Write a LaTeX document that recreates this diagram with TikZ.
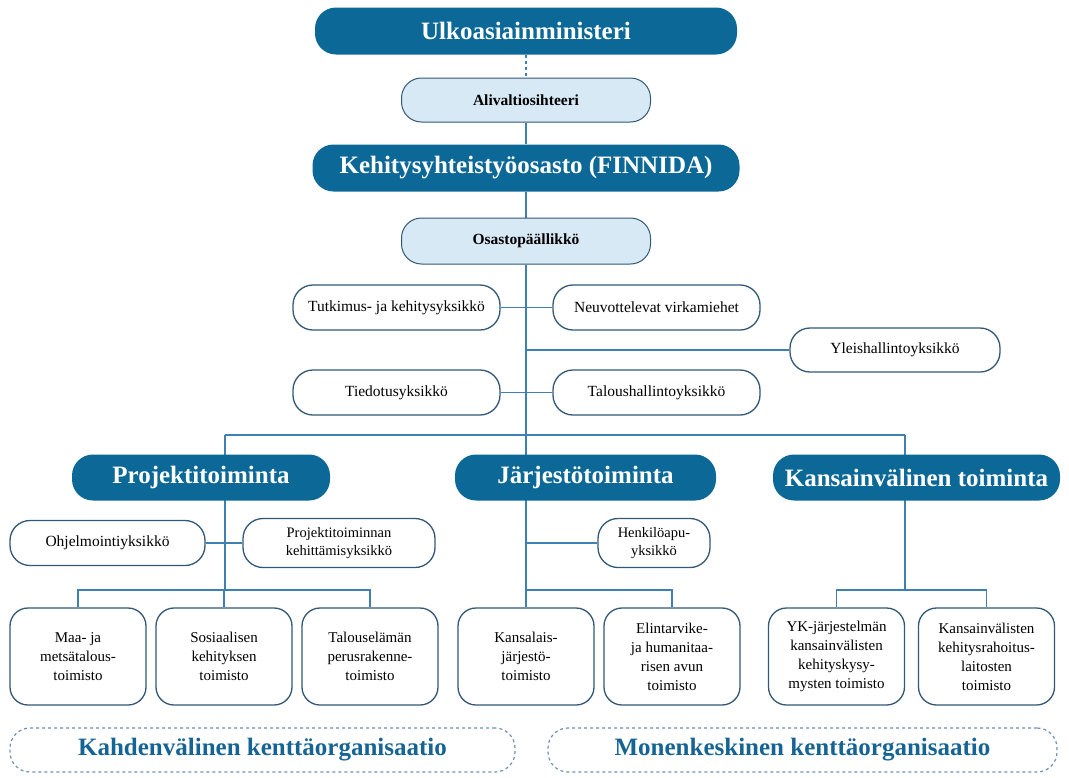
\documentclass[tikz,border=0pt]{standalone}
\usepackage{fontspec}
\setmainfont{Liberation Serif}
\usetikzlibrary{backgrounds}
\definecolor{darkfill}{RGB}{12,104,150}
\definecolor{lightfill}{RGB}{214,233,245}
\definecolor{boxline}{RGB}{50,88,118}
\definecolor{conn}{RGB}{62,128,178}
\definecolor{dashline}{RGB}{110,145,175}
\definecolor{fieldtext}{RGB}{22,100,148}
\tikzset{
  darkbox/.style={rectangle, rounded corners=21pt, fill=darkfill, draw=none, text=white,
    font=\bfseries\fontsize{25}{30}\selectfont, inner sep=0pt},
  lightbox/.style={rectangle, rounded corners=20pt, fill=lightfill, draw=boxline, line width=1pt,
    font=\bfseries\fontsize{15.5}{18}\selectfont, inner sep=0pt},
  unitbox/.style={rectangle, rounded corners=20pt, fill=white, draw=boxline, line width=1.3pt,
    font=\fontsize{15.5}{18}\selectfont, inner sep=0pt, align=center},
  officebox/.style={rectangle, rounded corners=18pt, fill=white, draw=boxline, line width=1.3pt,
    font=\fontsize{15}{19}\selectfont, inner sep=0pt, align=center,
    minimum width=136pt, minimum height=97pt},
  fieldbox/.style={rectangle, rounded corners=20pt, draw=dashline, dashed, line width=1.2pt,
    text=fieldtext, font=\bfseries\fontsize{25}{30}\selectfont, inner sep=0pt,
    minimum height=44pt},
  link/.style={draw=conn, line width=1.3pt},
}
\begin{document}
\begin{tikzpicture}[x=1pt,y=-1pt]
\useasboundingbox (0,0) rectangle (1069,777);
% top chain
\node[darkbox, minimum width=422pt, minimum height=47pt] (ulk) at (526,31) {Ulkoasiainministeri};
\node[lightbox, minimum width=249pt, minimum height=44pt] (ali) at (526,100) {Alivaltiosihteeri};
\node[darkbox, minimum width=427pt, minimum height=47pt] (keh) at (526,168) {Kehitysyhteistyöosasto (FINNIDA)};
\node[lightbox, minimum width=249pt, minimum height=46pt] (osa) at (526,241) {Osastopäällikkö};
% staff units
\node[unitbox, minimum width=207pt, minimum height=45pt] (tut) at (396.5,307.5) {Tutkimus- ja kehitysyksikkö};
\node[unitbox, minimum width=207pt, minimum height=45pt] (neu) at (656.5,307.5) {Neuvottelevat virkamiehet};
\node[unitbox, minimum width=210pt, minimum height=44pt] (yle) at (895,350) {Yleishallintoyksikkö};
\node[unitbox, minimum width=207pt, minimum height=45pt] (tie) at (396.5,392.5) {Tiedotusyksikkö};
\node[unitbox, minimum width=207pt, minimum height=45pt] (tal) at (656.5,392.5) {Taloushallintoyksikkö};
% departments
\node[darkbox, minimum width=258pt, minimum height=46pt] (pro) at (201,477.5) {Projektitoiminta};
\node[darkbox, minimum width=261pt, minimum height=46pt] (jar) at (585.5,477.5) {Järjestötoiminta};
\node[darkbox, minimum width=287pt, minimum height=46pt] (kvt) at (916.5,477.5) {Kansainvälinen toiminta};
% sub units
\node[unitbox, minimum width=195pt, minimum height=45pt] (ohj) at (107.5,543) {Ohjelmointiyksikkö};
\node[unitbox, minimum width=192pt, minimum height=49pt, font=\fontsize{14.5}{18}\selectfont] (pke) at (339,543) {Projektitoiminnan\\kehittämisyksikkö};
\node[unitbox, minimum width=112pt, minimum height=49pt, font=\fontsize{14.5}{18}\selectfont] (hen) at (654,543) {Henkilöapu-\\yksikkö};
% offices
\node[officebox] (maa) at (78,656.5) {Maa- ja\\metsätalous-\\toimisto};
\node[officebox] (sos) at (224,656.5) {Sosiaalisen\\kehityksen\\toimisto};
\node[officebox] (tel) at (370,656.5) {Talouselämän\\perusrakenne-\\toimisto};
\node[officebox] (kjt) at (526,656.5) {Kansalais-\\järjestö-\\toimisto};
\node[officebox] (eli) at (672,656.5) {Elintarvike-\\ja humanitaa-\\risen avun\\toimisto};
\node[officebox] (yk) at (836.5,656.5) {YK-järjestelmän\\kansainvälisten\\kehityskysy-\\mysten toimisto};
\node[officebox] (kvl) at (986.5,656.5) {Kansainvälisten\\kehitysrahoitus-\\laitosten\\toimisto};
% field organisations
\node[fieldbox, minimum width=505pt] (kah) at (262.5,750) {Kahdenvälinen kenttäorganisaatio};
\node[fieldbox, minimum width=509pt] (mon) at (802.5,750) {Monenkeskinen kenttäorganisaatio};
% coordinates
\coordinate (c0) at (526,435);
\coordinate (pl) at (225,435);
\coordinate (kl) at (905,435);
\coordinate (y0) at (526,350);
\coordinate (h0) at (526,543);
\coordinate (pb) at (225,590);
\coordinate (jb) at (526,590);
\coordinate (kb) at (905,590);
\begin{scope}[on background layer]
\draw[link, dashed] (ulk.south) -- (ali.north);
\draw[link] (ali.south) -- (keh.north);
\draw[link] (keh.south) -- (osa.north);
\draw[link] (osa.south) -- (c0);
\draw[link] (tut.east) -- (neu.west);
\draw[link] (tie.east) -- (tal.west);
\draw[link] (y0) -- (yle.west);
\draw[link] (pl) -- (kl);
\draw[link] (pl) -- (pb);
\draw[link] (kl) -- (kb);
\draw[link] (c0) -- (kjt.north);
\draw[link] (ohj.east) -- (pke.west);
\draw[link] (h0) -- (hen.west);
\draw[link] (maa.north) -- (maa.north |- pb) -- (tel.north |- pb) -- (tel.north);
\draw[link] (sos.north) -- (sos.north |- pb);
\draw[link] (jb) -- (eli.north |- jb) -- (eli.north);
\draw[link] (yk.north) -- (yk.north |- kb) -- (kvl.north |- kb) -- (kvl.north);
\end{scope}
\end{tikzpicture}
\end{document}
